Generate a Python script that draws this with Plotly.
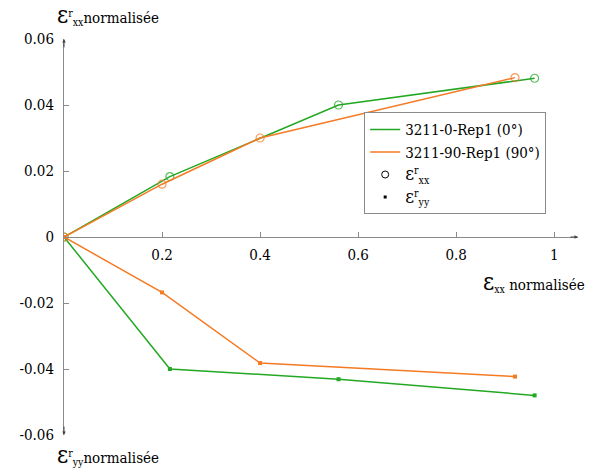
import plotly.graph_objects as go

# Data
x_0deg = [0, 0.216, 0.56, 0.96]
exx_0deg = [0, 0.0183, 0.040, 0.0481]
eyy_0deg = [0, -0.040, -0.0431, -0.0480]

x_90deg = [0, 0.20, 0.40, 0.92]
exx_90deg = [0, 0.0160, 0.0300, 0.0483]
eyy_90deg = [0, -0.0168, -0.0382, -0.0423]

y_tickvals = [0.06, 0.04, 0.02, 0, -0.02, -0.04, -0.06]
y_ticktext = ["0.06", "0.04", "0.02", "0", "-0.02", "-0.04", "-0.06"]
x_tickvals = [0.2, 0.4, 0.6, 0.8, 1]
x_ticktext = ["0.2", "0.4", "0.6", "0.8", "1"]

GREEN = "#22a822"
ORANGE = "#f47a24"
AXIS = "#8a8a8a"
FONT = "DejaVu Serif Condensed, DejaVu Serif"

fig = go.Figure()

for xs, exx, eyy, col in [(x_0deg, exx_0deg, eyy_0deg, GREEN),
                          (x_90deg, exx_90deg, eyy_90deg, ORANGE)]:
    fig.add_trace(go.Scatter(x=xs, y=exx, mode="lines+markers", showlegend=False,
                             line=dict(color=col, width=1.5),
                             marker=dict(symbol="circle-open", size=8,
                                         color=col, opacity=0.75,
                                         line=dict(width=1.2, color=col))))
    fig.add_trace(go.Scatter(x=xs, y=eyy, mode="lines+markers", showlegend=False,
                             line=dict(color=col, width=1.5),
                             marker=dict(symbol="square", size=4, color=col)))

EPS_L = '<span style="font-size:19px">ε</span>'
# legend-only entries
fig.add_trace(go.Scatter(x=[None], y=[None], mode="lines", name="3211-0-Rep1 (0°)",
                         line=dict(color=GREEN, width=1.5)))
fig.add_trace(go.Scatter(x=[None], y=[None], mode="lines", name="3211-90-Rep1 (90°)",
                         line=dict(color=ORANGE, width=1.5)))
fig.add_trace(go.Scatter(x=[None], y=[None], mode="markers",
                         name=EPS_L + "<sup>r</sup><sub>xx</sub>",
                         marker=dict(symbol="circle-open", size=7, color="black",
                                     line=dict(width=1, color="black"))))
fig.add_trace(go.Scatter(x=[None], y=[None], mode="markers",
                         name=EPS_L + "<sup>r</sup><sub>yy</sub>",
                         marker=dict(symbol="square", size=3, color="black")))

fig.update_layout(
    width=590, height=470,
    margin=dict(l=64, r=12, t=39, b=35),
    paper_bgcolor="white", plot_bgcolor="white",
    font=dict(family=FONT, size=15, color="black"),
    showlegend=True,
    legend=dict(x=0.584, y=0.815, xanchor="left", yanchor="top",
                bordercolor=AXIS, borderwidth=1, bgcolor="white",
                font=dict(family=FONT, size=15), tracegroupgap=0,
                itemwidth=30, entrywidth=160),
    xaxis=dict(range=[0, 1.0485], anchor="free", position=0.5,
               showline=True, linecolor=AXIS, linewidth=1,
               showgrid=False, zeroline=False,
               ticks="inside", ticklen=5, tickcolor=AXIS,
               tickvals=x_tickvals, ticktext=x_ticktext,
               tickfont=dict(family=FONT, size=15),
               ticklabelstandoff=4),
    yaxis=dict(range=[-0.06, 0.06],
               showline=True, linecolor=AXIS, linewidth=1,
               showgrid=False, zeroline=False,
               ticks="inside", ticklen=5, tickcolor=AXIS,
               tickvals=y_tickvals, ticktext=y_ticktext,
               tickfont=dict(family=FONT, size=15),
               ticklabelstandoff=6),
)

# axis arrowheads
for (xh, yh, xt, yt) in [(0, 0.06, 0, 0.057), (0, -0.06, 0, -0.057), (1.0485, 0, 1.03, 0)]:
    fig.add_annotation(x=xh, y=yh, ax=xt, ay=yt, xref="x", yref="y", axref="x", ayref="y",
                       showarrow=True, arrowhead=2, arrowsize=0.7, arrowwidth=1,
                       arrowcolor="#444", text="", standoff=0)

EPS = '<span style="font-size:24px">ε</span>'
fig.add_annotation(xref="paper", yref="paper", x=-0.018, y=1, xanchor="left", yanchor="bottom",
                   yshift=8, showarrow=False,
                   text=EPS + "<sup>r</sup><sub>xx</sub>normalisée",
                   font=dict(family=FONT, size=15))
fig.add_annotation(xref="paper", yref="paper", x=-0.018, y=0, xanchor="left", yanchor="top",
                   yshift=-4, showarrow=False,
                   text=EPS + "<sup>r</sup><sub>yy</sub>normalisée",
                   font=dict(family=FONT, size=15))
fig.add_annotation(xref="paper", yref="paper", x=1.018, y=0.386, xanchor="right", yanchor="middle",
                   showarrow=False,
                   text=EPS + "<sub>xx</sub> normalisée",
                   font=dict(family=FONT, size=15))

fig.write_html("out.html", post_script="document.body.style.margin='0';",
               config={"displayModeBar": False})
